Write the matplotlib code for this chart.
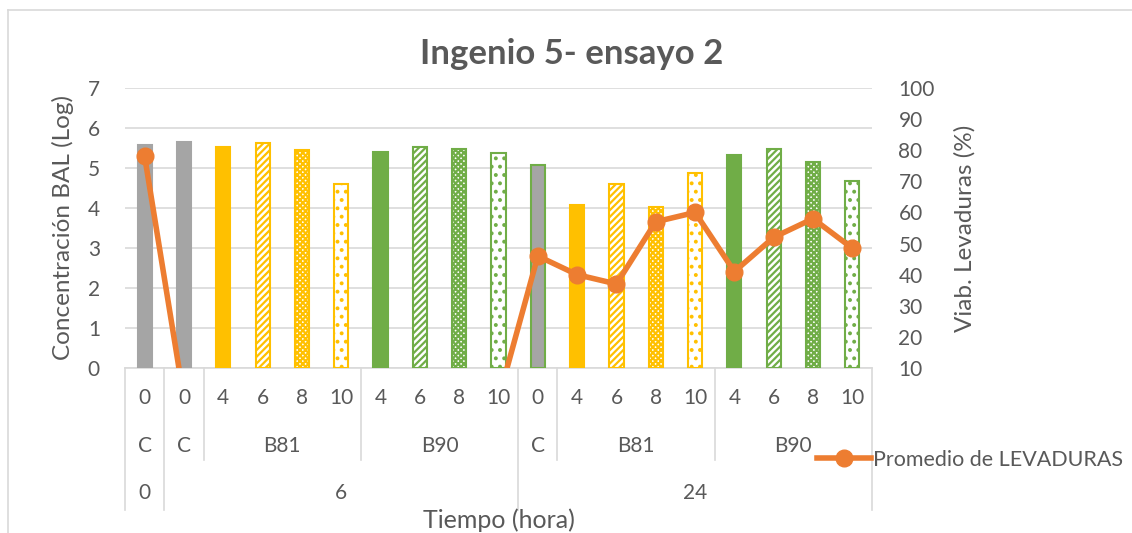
import matplotlib
matplotlib.use("Agg")
import matplotlib.pyplot as plt
import matplotlib.transforms as mtransforms
import numpy as np

plt.rcParams["font.family"] = ["Lato", "DejaVu Sans"]
plt.rcParams["hatch.linewidth"] = 1.6

# categories (three-level axis)
horas = ["0", "0", "4", "6", "8", "10", "4", "6", "8", "10",
         "0", "4", "6", "8", "10", "4", "6", "8", "10"]
grupos = [("C", 0, 0), ("C", 1, 1), ("B81", 2, 5), ("B90", 6, 9),
          ("C", 10, 10), ("B81", 11, 14), ("B90", 15, 18)]
tiempos = [("0", 0, 0), ("6", 1, 9), ("24", 10, 18)]

# series
bal = [5.58, 5.66, 5.53, 5.62, 5.45, 4.59, 5.41, 5.53, 5.47, 5.38,
       5.08, 4.08, 4.59, 4.03, 4.88, 5.33, 5.48, 5.14, 4.68]
levaduras = [78, 0, 0, 0, 0, 0, 0, 0, 0, 0,
             46, 40, 37, 57, 60, 41, 52, 58, 48.5]

GRAY, YEL, GRN, ORG = "#A5A5A5", "#FFC000", "#70AD47", "#ED7D31"
TXT = "#595959"
bar_color = [GRAY, GRAY] + [YEL] * 4 + [GRN] * 4 + [GRAY] + [YEL] * 4 + [GRN] * 4
bar_edge = [GRAY, GRAY] + [YEL] * 4 + [GRN] * 4 + [GRN] + [YEL] * 4 + [GRN] * 4
pat = ["", "", "", "/////", "xxxxxx", "..", "", "/////", "xxxxxx", ".."]
bar_hatch = pat[:10] + [""] + pat[2:10]

fig = plt.figure(figsize=(11.32, 5.33), dpi=100)
ax = fig.add_axes([125 / 1132, 1 - 368 / 533, 747 / 1132, 280 / 533])
ax2 = ax.twinx()

x = np.arange(len(horas))
for i in x:
    solid = bar_hatch[i] == ""
    ax.bar(i, bal[i], width=0.36, color=bar_color[i] if solid else "white",
           edgecolor=bar_edge[i], hatch=bar_hatch[i] or None, linewidth=1.5, zorder=3)

ax2.plot(x, levaduras, color=ORG, lw=4, marker="o", ms=12,
         label="Promedio de LEVADURAS", zorder=5)

ax.set_xlim(-0.5, len(horas) - 0.5)
ax.set_ylim(0, 7)
ax2.set_ylim(10, 100)
ax.set_yticks(range(0, 8))
ax2.set_yticks(range(10, 101, 10))
ax.yaxis.grid(True, color="#D9D9D9", lw=1.2)
ax.set_axisbelow(True)
ax.set_xticks([])
for a in (ax, ax2):
    for s in a.spines.values():
        s.set_visible(False)
    a.tick_params(axis="y", length=0, labelsize=15, colors=TXT)
ax.tick_params(axis="y", pad=18)
ax2.tick_params(axis="y", pad=19)
ax.spines["bottom"].set_visible(True)
ax.spines["bottom"].set_color("#D9D9D9")
ax.spines["bottom"].set_linewidth(1.2)
ax2.set_zorder(ax.get_zorder() + 1)
ax2.patch.set_visible(False)

ax.set_ylabel("Concentración BAL (Log)", fontsize=17.5, color=TXT, labelpad=10)
ax2.set_ylabel("Viab. Levaduras (%)", fontsize=17.5, color=TXT, labelpad=14)

# multi-level category labels
tr = mtransforms.blended_transform_factory(ax.transData, ax.transAxes)
for i, h in enumerate(horas):
    ax.text(i, -0.107, h, transform=tr, ha="center", va="center", fontsize=15, color=TXT)
for lab, a, b in grupos:
    ax.text((a + b) / 2, -0.279, lab, transform=tr, ha="center", va="center", fontsize=15, color=TXT)
for lab, a, b in tiempos:
    ax.text((a + b) / 2, -0.446, lab, transform=tr, ha="center", va="center", fontsize=15, color=TXT)
for xb in [-0.5, 0.5, 9.5, 18.5]:
    ax.plot([xb, xb], [0, -0.507], transform=tr, color="#D9D9D9", lw=1.2, clip_on=False)
for xb in [1.5, 5.5, 10.5, 14.5]:
    ax.plot([xb, xb], [0, -0.329], transform=tr, color="#D9D9D9", lw=1.2, clip_on=False)
ax.text(0.5, -0.545, "Tiempo (hora)", transform=ax.transAxes, ha="center", va="center",
        fontsize=18, color=TXT)

fig.text(0.505, 1 - 54 / 533, "Ingenio 5- ensayo 2", ha="center", va="center",
         fontsize=25, fontweight="bold", color=TXT)

ax2.legend(loc="center left", bbox_to_anchor=(806 / 1132, 1 - 460 / 533),
           bbox_transform=fig.transFigure, frameon=False, fontsize=15.5,
           handlelength=2.5, handletextpad=0.1, borderpad=0, labelcolor=TXT)

# chart border
fig.add_artist(plt.Line2D([8 / 1132, 1], [1 - 10 / 533] * 2, transform=fig.transFigure,
                          color="#D9D9D9", lw=1.2))
fig.add_artist(plt.Line2D([8 / 1132] * 2, [0, 1 - 10 / 533], transform=fig.transFigure,
                          color="#D9D9D9", lw=1.2))

fig.savefig("out.png", dpi=100)
